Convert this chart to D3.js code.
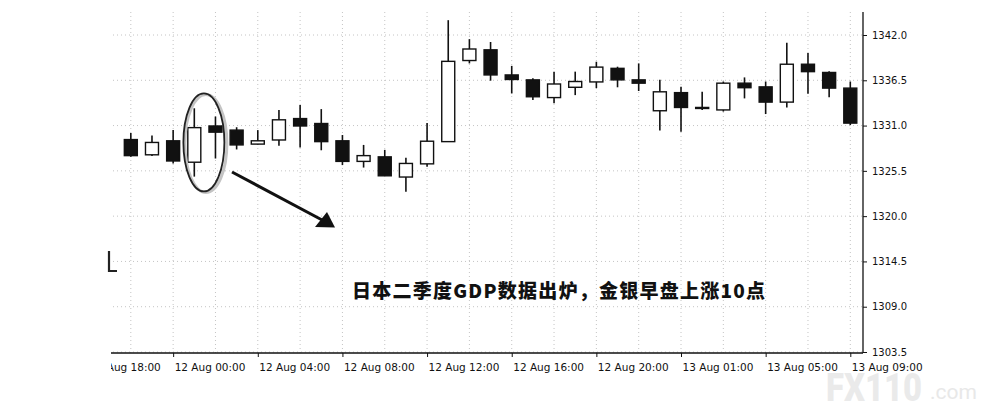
<!DOCTYPE html>
<html><head><meta charset="utf-8">
<script src="https://cdn.jsdelivr.net/npm/d3@7"></script>
<style>html,body{margin:0;padding:0;background:#fff;}svg{display:block;}</style>
</head><body>
<svg id="chart" width="991" height="410"></svg>
<script>
// Hourly candles (slot 0 of the x scale is the "11 Aug 18:00" label; first candle sits in slot 2)
const times = ["11 Aug 22:00","11 Aug 23:00","12 Aug 00:00","12 Aug 01:00","12 Aug 02:00","12 Aug 03:00",
  "12 Aug 04:00","12 Aug 05:00","12 Aug 06:00","12 Aug 07:00","12 Aug 08:00","12 Aug 09:00","12 Aug 10:00",
  "12 Aug 11:00","12 Aug 12:00","12 Aug 13:00","12 Aug 14:00","12 Aug 15:00","12 Aug 16:00","12 Aug 17:00",
  "12 Aug 18:00","12 Aug 19:00","12 Aug 20:00","12 Aug 21:00","12 Aug 22:00","12 Aug 23:00","13 Aug 01:00",
  "13 Aug 02:00","13 Aug 03:00","13 Aug 04:00","13 Aug 05:00","13 Aug 06:00","13 Aug 07:00","13 Aug 08:00","13 Aug 09:00"];
const open  = [1329.3,1327.45,1329.15,1326.55,1330.95,1330.45,1328.75,1329.25,1331.85,1331.25,1329.15,1326.65,1327.2,1324.75,1326.35,1329.05,1338.9,1340.2,1337.15,1336.55,1334.4,1335.65,1336.3,1337.95,1336.55,1332.8,1335.0,1333.1,1332.9,1336.15,1335.7,1333.85,1338.45,1337.45,1335.55];
const high  = [1330.1,1329.8,1330.45,1333.1,1332.1,1330.8,1330.45,1332.9,1333.5,1333.0,1329.85,1328.65,1328.05,1327.1,1331.3,1343.8,1341.5,1341.15,1338.25,1336.75,1337.55,1337.55,1338.75,1338.15,1338.55,1336.55,1335.7,1335.1,1336.35,1336.85,1336.35,1341.05,1339.8,1337.6,1336.35];
const low   = [1327.2,1327.3,1326.4,1324.8,1327.0,1328.1,1328.7,1328.55,1328.35,1328.0,1326.2,1325.9,1324.9,1322.95,1326.0,1329.05,1338.55,1336.45,1334.9,1334.1,1333.7,1334.7,1335.55,1335.65,1335.2,1330.4,1330.25,1332.9,1332.7,1334.3,1332.4,1333.2,1334.85,1334.45,1331.05];
const close = [1327.35,1328.95,1326.7,1330.75,1330.2,1328.65,1329.15,1331.7,1330.95,1329.05,1326.65,1327.35,1324.9,1326.4,1329.1,1338.8,1340.3,1337.15,1336.6,1334.5,1336.05,1336.35,1338.1,1336.55,1336.15,1335.1,1333.2,1333.2,1336.15,1335.6,1333.85,1338.45,1337.55,1335.55,1331.3];
const tickLabels = ["11 Aug 18:00","12 Aug 00:00","12 Aug 04:00","12 Aug 08:00","12 Aug 12:00","12 Aug 16:00","12 Aug 20:00","13 Aug 01:00","13 Aug 05:00","13 Aug 09:00"];
const tickSlots = [0,4,8,12,16,20,24,28,32,36];
const priceTicks = [1342.0,1336.5,1331.0,1325.5,1320.0,1314.5,1309.0,1303.5];
const note = "日本二季度GDP数据出炉，金银早盘上涨10点";

const svg = d3.select("#chart");
const x = d3.scaleLinear().domain([0, 36]).range([88.5, 850.3]);
const y = d3.scaleLinear().domain([1303.5, 1342.0]).range([352, 35]);
const slotOf = i => i + 2;
const axisX = 863, axisY = 353, leftClip = 111, topY = 12;

svg.append("defs").append("clipPath").attr("id","clip")
  .append("rect").attr("x", leftClip).attr("y", 0).attr("width", 991 - leftClip).attr("height", 410);

const g = svg.append("g").attr("clip-path","url(#clip)");

// grid
const gridSlots = d3.range(0, 37, 2);
g.selectAll("line.vg").data(gridSlots).join("line")
  .attr("x1", d => x(d)).attr("x2", d => x(d)).attr("y1", topY).attr("y2", axisY)
  .attr("stroke", "#c4c4c4").attr("stroke-width", 1).attr("stroke-dasharray", "1,3");
g.selectAll("line.hg").data(priceTicks).join("line")
  .attr("x1", leftClip + 2).attr("x2", axisX).attr("y1", d => y(d)).attr("y2", d => y(d))
  .attr("stroke", "#c4c4c4").attr("stroke-width", 1).attr("stroke-dasharray", "1,3");

// x axis
const xAxis = d3.axisBottom(x).tickValues(tickSlots).tickSize(4)
  .tickFormat((d, i) => tickLabels[i]);
const xa = g.append("g").attr("transform", `translate(0,${axisY})`).call(xAxis);
xa.select(".domain").remove();
xa.selectAll(".tick line").attr("stroke", "#111").attr("stroke-width", 1);
xa.selectAll(".tick text").attr("text-anchor", "start").attr("dx", 1).attr("y", 11).attr("dy", "0.71em")
  .attr("font-family", "DejaVu Sans, sans-serif").attr("font-size", 10.5).attr("fill", "#111");
g.append("line").attr("x1", leftClip - 3).attr("x2", axisX).attr("y1", axisY).attr("y2", axisY)
  .attr("stroke", "#111").attr("stroke-width", 1.3);

// y axis (right)
const yAxis = d3.axisRight(y).tickValues(priceTicks).tickSize(4).tickFormat(d3.format(".1f"));
const ya = svg.append("g").attr("transform", `translate(${axisX},0)`).call(yAxis);
ya.select(".domain").remove();
ya.selectAll(".tick line").attr("stroke", "#111");
ya.selectAll(".tick text").attr("x", 9).attr("font-family", "DejaVu Sans, sans-serif")
  .attr("font-size", 10).attr("fill", "#111");
svg.append("line").attr("x1", axisX).attr("x2", axisX).attr("y1", topY).attr("y2", axisY)
  .attr("stroke", "#111").attr("stroke-width", 1.3);

// candles
const data = times.map((t, i) => ({t, i, o: open[i], h: high[i], l: low[i], c: close[i]}));
const bw = 13;
const cg = svg.append("g");
cg.selectAll("line.wick").data(data).join("line")
  .attr("x1", d => x(slotOf(d.i))).attr("x2", d => x(slotOf(d.i)))
  .attr("y1", d => y(d.h)).attr("y2", d => y(d.l))
  .attr("stroke", "#111").attr("stroke-width", 1.6);
cg.selectAll("rect.body").data(data).join("rect")
  .attr("x", d => x(slotOf(d.i)) - bw / 2)
  .attr("y", d => y(Math.max(d.o, d.c)))
  .attr("width", bw)
  .attr("height", d => Math.max(1, Math.abs(y(d.o) - y(d.c))))
  .attr("fill", d => d.c < d.o ? "#111" : "#fff")
  .attr("stroke", "#111").attr("stroke-width", 1.4);

// ellipse highlighting the two candles around 12 Aug 01:00
const ex = (x(slotOf(3)) + x(slotOf(4))) / 2 - 1, ey = (y(high[3]) + y(low[3])) / 2;
svg.append("ellipse").attr("cx", ex + 2).attr("cy", ey + 1).attr("rx", 21).attr("ry", 49)
  .attr("fill", "none").attr("stroke", "#c4c4c4").attr("stroke-width", 3);
svg.append("ellipse").attr("cx", ex).attr("cy", ey).attr("rx", 20.5).attr("ry", 49)
  .attr("fill", "none").attr("stroke", "#222").attr("stroke-width", 1.8);

// arrow
svg.append("line").attr("x1", 232).attr("y1", 172).attr("x2", 324).attr("y2", 221)
  .attr("stroke", "#111").attr("stroke-width", 3);
svg.append("path").attr("d", "M335,227.5 L315,227 L327,212 Z").attr("fill", "#111");

// left edge mark
svg.append("path").attr("d", "M109,251 L109,271 L117,271").attr("fill", "none")
  .attr("stroke", "#222").attr("stroke-width", 2.2);

// annotation
svg.append("text").attr("x", 352).attr("y", 298).text(note)
  .attr("font-family", "Noto Sans CJK SC, sans-serif").attr("font-weight", 900)
  .attr("font-size", 19).attr("fill", "#111")
  .attr("textLength", 413).attr("lengthAdjust", "spacing");

// watermark
svg.append("text").attr("x", 826).attr("y", 401).text("FX110")
  .attr("font-family", "Roboto, sans-serif").attr("font-weight", 900).attr("font-size", 38)
  .attr("fill", "#e8e8e8").attr("fill-opacity", 0.9)
  .attr("textLength", 96).attr("lengthAdjust", "spacingAndGlyphs");
svg.append("text").attr("x", 930).attr("y", 399).text(".com")
  .attr("font-family", "Roboto, sans-serif").attr("font-size", 21).attr("fill", "#e8e8e8");
</script>
</body></html>
